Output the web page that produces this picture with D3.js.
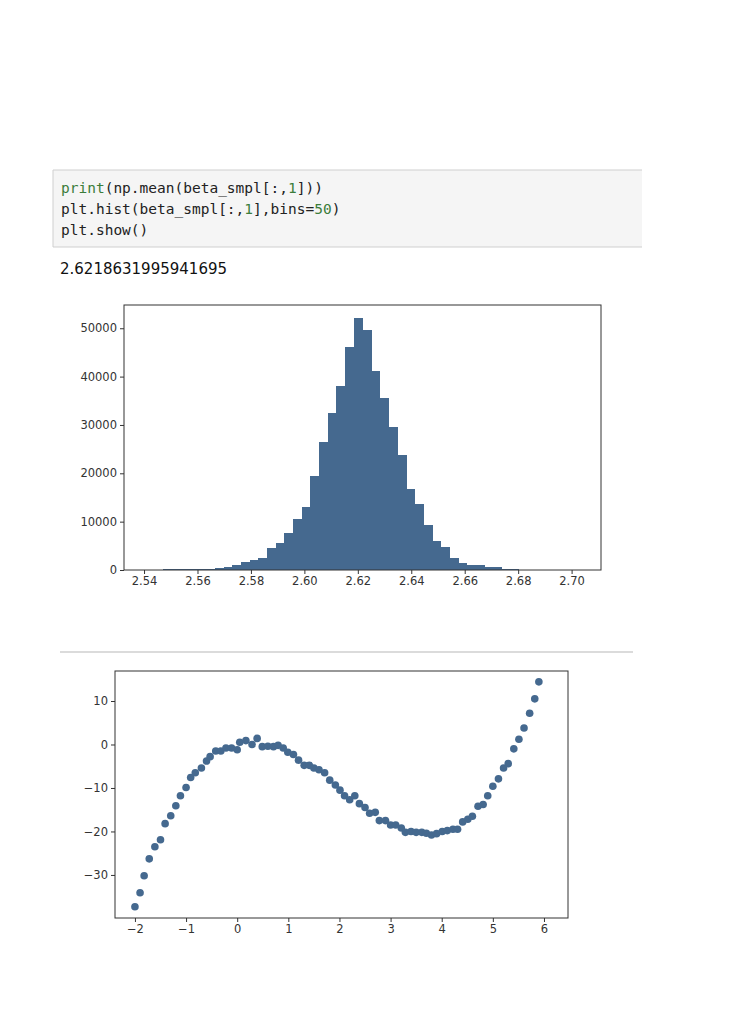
<!DOCTYPE html>
<html>
<head>
<meta charset="utf-8">
<script src="https://cdn.jsdelivr.net/npm/d3@7"></script>
<style>
body { margin: 0; background: #fff; }
svg text { font-family: "DejaVu Sans", sans-serif; }
</style>
</head>
<body>
<svg id="chart" width="732" height="1024"></svg>
<script>
// histogram: 50 bins
const binStart = 2.5405
const binWidth = 0.00325
const binCounts = [0, 0, 200, 250, 250, 250, 250, 300, 400, 600,
  1000, 1600, 2000, 2500, 4600, 5600, 7600, 10600, 13100, 19500,
  26500, 32500, 38100, 46100, 52200, 49700, 41100, 35600, 29500, 23700,
  16700, 13700, 9400, 5900, 4800, 2500, 1500, 1100, 1000, 700,
  550, 300, 150, 100, 50, 30, 20, 10, 0, 10]
const histXTicks = [2.54, 2.56, 2.58, 2.60, 2.62, 2.64, 2.66, 2.68, 2.70]
const histYTicks = [0, 10000, 20000, 30000, 40000, 50000]

// scatter points
const scatterX = [-2, -1.9, -1.82, -1.72, -1.61, -1.5, -1.41, -1.3, -1.2, -1.11, -1, -0.91, -0.82, -0.7, -0.6, -0.53, -0.42, -0.32, -0.22, -0.11,
  0, 0.05, 0.17, 0.29, 0.39, 0.49, 0.6, 0.71, 0.8, 0.9, 0.99, 1.1, 1.2, 1.31, 1.41, 1.5, 1.6, 1.71, 1.81, 1.92,
  2.01, 2.1, 2.2, 2.3, 2.39, 2.5, 2.59, 2.7, 2.78, 2.9, 3, 3.1, 3.21, 3.29, 3.4, 3.5, 3.61, 3.7, 3.8, 3.9,
  4.01, 4.11, 4.22, 4.31, 4.41, 4.51, 4.6, 4.71, 4.81, 4.9, 5, 5.11, 5.21, 5.3, 5.41, 5.51, 5.61, 5.72, 5.82, 5.9]
const scatterY = [-37.3, -34.1, -30.2, -26.3, -23.5, -21.9, -18.2, -16.4, -14.1, -11.8, -9.9, -7.6, -6.5, -5.4, -3.8, -2.8, -1.5, -1.5, -0.8, -0.8,
  -1.2, 0.5, 0.9, 0, 1.4, -0.5, -0.4, -0.5, -0.2, -0.8, -1.8, -2.3, -3.6, -4.8, -4.8, -5.4, -5.8, -6.5, -8.2, -9.3,
  -10.5, -11.8, -12.7, -11.8, -13.6, -14.5, -15.8, -15.6, -17.5, -17.5, -18.5, -18.5, -19.2, -20.2, -20, -20.2, -20.2, -20.4, -20.8, -20.5,
  -20, -19.8, -19.5, -19.5, -17.8, -17.2, -16.5, -14.2, -13.8, -11.8, -9.6, -7.9, -5.4, -4.4, -1, 1.2, 3.8, 7.2, 10.5, 14.4]
const scatterXTicks = [-2, -1, 0, 1, 2, 3, 4, 5, 6]
const scatterYTicks = [-30, -20, -10, 0, 10]

const blue = "#45698f"
const svg = d3.select("#chart")

// code cell (cut off at the right like the screenshot)
svg.append("rect").attr("x", 53).attr("y", 170).attr("width", 589).attr("height", 77).attr("fill", "#f5f5f5")
svg.append("path").attr("d", "M642,170 H53 V247 H642").attr("fill", "none").attr("stroke", "#cfcfcf")
const code = [
  [["print", "#3b7d3b"], ["(np.mean(beta_smpl[:,", "#222"], ["1", "#3b7d3b"], ["]))", "#222"]],
  [["plt.hist(beta_smpl[:,", "#222"], ["1", "#3b7d3b"], ["],bins=", "#222"], ["50", "#3b7d3b"], [")", "#222"]],
  [["plt.show()", "#222"]]
]
code.forEach((line, i) => {
  const t = svg.append("text").attr("x", 61).attr("y", 193 + i * 21)
    .style("font-family", "'DejaVu Sans Mono', monospace").style("font-size", "14.5px")
  line.forEach(s => t.append("tspan").attr("fill", s[1]).text(s[0]))
})
svg.append("text").attr("x", 60).attr("y", 274).style("font-size", "15px").attr("fill", "#111")
  .text("2.6218631995941695")

// histogram
const hx = d3.scaleLinear().domain([binStart - 0.008, binStart + 50 * binWidth + 0.008]).range([124, 601])
const hy = d3.scaleLinear().domain([0, 52200 * 1.05]).range([570, 305])
svg.append("g").attr("shape-rendering", "crispEdges").selectAll("rect").data(binCounts).enter().append("rect")
  .attr("x", (d, i) => hx(binStart + i * binWidth))
  .attr("width", hx(binStart + binWidth) - hx(binStart) + 0.6)
  .attr("y", d => hy(d))
  .attr("height", d => hy(0) - hy(d))
  .attr("fill", blue)

function axes(xs, ys, xt, yt, fmtX, fmtY) {
  const [x0, x1] = xs.range(), [y0, y1] = ys.range()
  const gx = svg.append("g").attr("transform", `translate(0,${y0})`)
    .call(d3.axisBottom(xs).tickValues(xt).tickSize(4).tickFormat(fmtX))
  const gy = svg.append("g").attr("transform", `translate(${x0},0)`)
    .call(d3.axisLeft(ys).tickValues(yt).tickSize(4).tickFormat(fmtY))
  ;[gx, gy].forEach(g => {
    g.select(".domain").remove()
    g.selectAll("line").attr("stroke", "#333")
    g.selectAll("text").attr("fill", "#333").style("font-size", "11.5px")
  })
  svg.append("rect").attr("x", x0).attr("y", y1).attr("width", x1 - x0).attr("height", y0 - y1)
    .attr("fill", "none").attr("stroke", "#333").attr("stroke-width", 1)
}
axes(hx, hy, histXTicks, histYTicks, d3.format(".2f"), d3.format("d"))

// separator
svg.append("line").attr("x1", 60).attr("x2", 633).attr("y1", 652).attr("y2", 652)
  .attr("stroke", "#cfcfcf").attr("stroke-width", 1.5)

// scatter
const sx = d3.scaleLinear().domain([-2.39, 6.47]).range([115, 568])
const sy = d3.scaleLinear().domain([-39.9, 16.9]).range([918, 671])
svg.append("g").selectAll("circle").data(scatterX).enter().append("circle")
  .attr("cx", d => sx(d))
  .attr("cy", (d, i) => sy(scatterY[i]))
  .attr("r", 3.8)
  .attr("fill", blue)
axes(sx, sy, scatterXTicks, scatterYTicks, d => d < 0 ? "\u2212" + Math.abs(d) : d, d => d < 0 ? "\u2212" + Math.abs(d) : d)
</script>
</body>
</html>
